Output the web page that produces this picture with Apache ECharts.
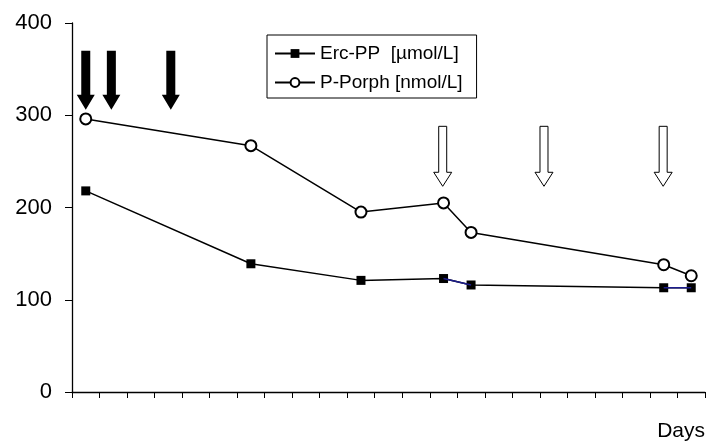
<!DOCTYPE html>
<html>
<head>
<meta charset="utf-8">
<script src="https://cdn.jsdelivr.net/npm/echarts@6/dist/echarts.min.js"></script>
<style>
  html, body { margin: 0; padding: 0; background: #fff; }
  #chart { width: 708px; height: 446px; }
</style>
</head>
<body>
<div id="chart"></div>
<script>
// measurement days (x position on a 0..23 day axis)
const days = [0.5, 6.5, 10.5, 13.5, 14.5, 21.5, 22.5];
const ercPP = [218, 139, 121, 123, 116, 113, 113];
const pPorph = [296, 267, 195, 205, 173, 138, 126];
// segments of Erc-PP drawn in blue (index pairs into the arrays above)
const blueSegments = [[3, 4], [5, 6]];

// arrow annotations: day, top value, tip value
const filledArrows = [[0.5, 370, 306], [1.43, 370, 306], [3.59, 370, 306]];
const hollowArrows = [[13.47, 288, 223], [17.15, 288, 223], [21.48, 288, 223]];

const yTicks = [0, 100, 200, 300, 400];
const FONT = 'Liberation Sans, Arial, sans-serif';

const chart = echarts.init(document.getElementById('chart'));

function arrowRenderer(opts) {
    return function (params, api) {
        const top = api.coord([api.value(0), api.value(1)]);
        const tip = api.coord([api.value(0), api.value(2)]);
        const cx = top[0];
        const headY = tip[1] - opts.headLen;
        return {
            type: 'polygon',
            shape: {
                points: [
                    [cx - opts.shaft, top[1]],
                    [cx + opts.shaft, top[1]],
                    [cx + opts.shaft, headY],
                    [cx + opts.head, headY],
                    [cx, tip[1]],
                    [cx - opts.head, headY],
                    [cx - opts.shaft, headY]
                ]
            },
            style: {
                fill: opts.fill,
                stroke: '#000',
                lineWidth: opts.lineWidth
            }
        };
    };
}

const blueSeries = blueSegments.map(seg => ({
    name: 'seg',
    type: 'line',
    data: seg.map(i => [days[i], ercPP[i]]),
    symbol: 'none',
    lineStyle: { color: '#1c1c8c', width: 1.5 },
    z: 3,
    silent: true
}));

const option = {
    animation: false,
    backgroundColor: '#fff',
    grid: {
        left: 72,
        right: 3,
        top: 23,
        bottom: 54
    },
    legend: {
        data: ['Erc-PP  [µmol/L]', 'P-Porph [nmol/L]'],
        orient: 'vertical',
        left: 267,
        top: 35,
        borderColor: '#000',
        borderWidth: 1,
        borderRadius: 0,
        padding: [9, 14, 6, 7],
        itemGap: 10,
        itemWidth: 40,
        itemHeight: 11,
        textStyle: {
            fontFamily: FONT,
            fontSize: 19,
            color: '#000'
        }
    },
    xAxis: {
        type: 'value',
        min: 0,
        max: 23,
        interval: 1,
        name: 'Days',
        nameLocation: 'end',
        nameGap: 0,
        nameTextStyle: {
            fontFamily: FONT,
            fontSize: 21,
            color: '#000',
            align: 'right',
            verticalAlign: 'top',
            padding: [29, 0, 0, 0]
        },
        axisLine: { lineStyle: { color: '#000', width: 1.3 } },
        axisTick: { show: true, inside: false, length: 6, lineStyle: { color: '#000', width: 1 } },
        axisLabel: { show: false },
        splitLine: { show: false }
    },
    yAxis: {
        type: 'value',
        min: yTicks[0],
        max: yTicks[yTicks.length - 1],
        interval: 100,
        axisLine: { show: true, lineStyle: { color: '#000', width: 1.3 } },
        axisTick: { show: true, inside: false, length: 7, lineStyle: { color: '#000', width: 1 } },
        axisLabel: {
            margin: 20,
            fontFamily: FONT,
            fontSize: 22,
            color: '#000'
        },
        splitLine: { show: false }
    },
    series: [{
        name: 'Erc-PP  [µmol/L]',
        type: 'line',
        data: days.map((d, i) => [d, ercPP[i]]),
        symbol: 'rect',
        symbolSize: 9,
        itemStyle: { color: '#000' },
        lineStyle: { color: '#000', width: 1.5 },
        z: 2
    }, {
        name: 'P-Porph [nmol/L]',
        type: 'line',
        data: days.map((d, i) => [d, pPorph[i]]),
        symbol: 'emptyCircle',
        symbolSize: 11,
        itemStyle: { color: '#000', borderWidth: 1.4 },
        lineStyle: { color: '#000', width: 1.5 },
        z: 2
    }, ...blueSeries, {
        name: 'filledArrows',
        type: 'custom',
        silent: true,
        data: filledArrows,
        encode: { x: 0, y: [1, 2] },
        renderItem: arrowRenderer({ shaft: 4.5, head: 9, headLen: 15, fill: '#000', lineWidth: 0 }),
        z: 5
    }, {
        name: 'hollowArrows',
        type: 'custom',
        silent: true,
        data: hollowArrows,
        encode: { x: 0, y: [1, 2] },
        renderItem: arrowRenderer({ shaft: 4, head: 9, headLen: 14, fill: '#fff', lineWidth: 1 }),
        z: 5
    }]
};

chart.setOption(option);
</script>
</body>
</html>
